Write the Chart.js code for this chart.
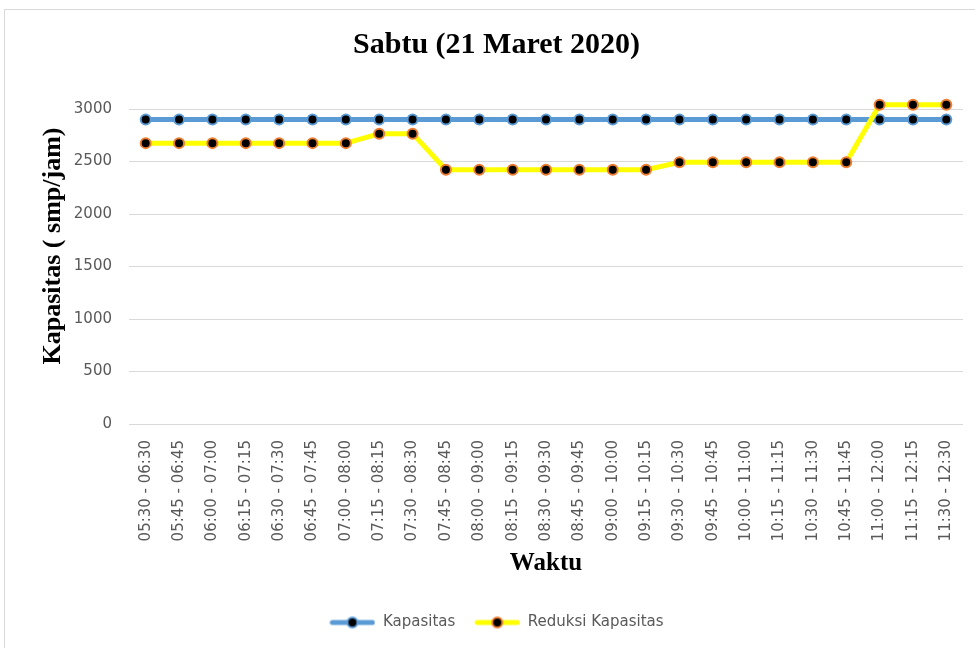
<!DOCTYPE html>
<html lang="id">
<head>
    <meta charset="UTF-8">
    <title>Sabtu (21 Maret 2020)</title>
    <script src="https://cdn.jsdelivr.net/npm/chart.js"></script>
    <style>
        body {
            margin: 0;
            background: #fff;
            overflow: hidden;
        }
        .frame {
            position: absolute;
            left: 4px;
            top: 9px;
            width: 1000px;
            height: 700px;
            border: 1px solid #d9d9d9;
            pointer-events: none;
        }
        #kapasitasChart {
            position: absolute;
            left: 0;
            top: 0;
        }
    </style>
</head>
<body>
    <div class="frame"></div>
    <canvas id="kapasitasChart" width="975" height="648"></canvas>

    <script>
        // data
        const waktu = [
            '05:30 - 06:30', '05:45 - 06:45', '06:00 - 07:00', '06:15 - 07:15', '06:30 - 07:30',
            '06:45 - 07:45', '07:00 - 08:00', '07:15 - 08:15', '07:30 - 08:30', '07:45 - 08:45',
            '08:00 - 09:00', '08:15 - 09:15', '08:30 - 09:30', '08:45 - 09:45', '09:00 - 10:00',
            '09:15 - 10:15', '09:30 - 10:30', '09:45 - 10:45', '10:00 - 11:00', '10:15 - 11:15',
            '10:30 - 11:30', '10:45 - 11:45', '11:00 - 12:00', '11:15 - 12:15', '11:30 - 12:30'
        ];
        const kapasitas = [
            2900, 2900, 2900, 2900, 2900, 2900, 2900, 2900, 2900, 2900,
            2900, 2900, 2900, 2900, 2900, 2900, 2900, 2900, 2900, 2900,
            2900, 2900, 2900, 2900, 2900
        ];
        const reduksiKapasitas = [
            2675, 2675, 2675, 2675, 2675, 2675, 2675, 2765, 2765, 2422,
            2422, 2422, 2422, 2422, 2422, 2422, 2492, 2492, 2492, 2492,
            2492, 2492, 3040, 3040, 3040
        ];
        const yTicks = [0, 500, 1000, 1500, 2000, 2500, 3000];

        const seriesNames = ['Kapasitas', 'Reduksi Kapasitas'];
        const lineColors = ['#5B9BD5', '#FFFF00'];
        const markerEdges = ['#5B9BD5', '#ED7D31'];
        const yTitle = 'Kapasitas ( smp/jam)';

        // little line-with-dot sample for the legend
        function legendMarker(lineColor, edgeColor) {
            const c = document.createElement('canvas');
            c.width = 46;
            c.height = 14;
            const g = c.getContext('2d');
            g.strokeStyle = lineColor;
            g.lineWidth = 5;
            g.lineCap = 'round';
            g.beginPath();
            g.moveTo(3, 7);
            g.lineTo(43, 7);
            g.stroke();
            g.beginPath();
            g.arc(23, 7, 5, 0, Math.PI * 2);
            g.fillStyle = '#000';
            g.fill();
            g.lineWidth = 2;
            g.strokeStyle = edgeColor;
            g.stroke();
            return c;
        }
        const markers = [legendMarker(lineColors[0], markerEdges[0]), legendMarker(lineColors[1], markerEdges[1])];

        // y axis title sits a bit above the middle of the axis, like the original
        const yTitlePlugin = {
            id: 'yTitle',
            afterDraw(chart) {
                const g = chart.ctx;
                g.save();
                g.translate(53, 246);
                g.rotate(-Math.PI / 2);
                g.font = 'bold 26px "Liberation Serif"';
                g.fillStyle = '#000';
                g.textAlign = 'center';
                g.textBaseline = 'middle';
                g.fillText(yTitle, 0, 0);
                g.restore();
            }
        };

        const tickFont = { family: 'DejaVu Sans', size: 15 };
        const serifBold = { family: 'Liberation Serif', weight: 'bold' };

        const ctx = document.getElementById('kapasitasChart').getContext('2d');
        new Chart(ctx, {
            type: 'line',
            data: {
                labels: waktu,
                datasets: [
                    {
                        label: seriesNames[0],
                        data: kapasitas,
                        borderColor: lineColors[0],
                        backgroundColor: lineColors[0],
                        borderWidth: 5,
                        pointRadius: 5,
                        pointBorderWidth: 2,
                        pointBackgroundColor: '#000',
                        pointBorderColor: markerEdges[0],
                        tension: 0,
                        clip: false,
                        order: 1
                    },
                    {
                        label: seriesNames[1],
                        data: reduksiKapasitas,
                        borderColor: lineColors[1],
                        backgroundColor: lineColors[1],
                        borderWidth: 5,
                        pointRadius: 5,
                        pointBorderWidth: 2,
                        pointBackgroundColor: '#000',
                        pointBorderColor: markerEdges[1],
                        tension: 0,
                        clip: false,
                        order: 0
                    }
                ]
            },
            options: {
                responsive: false,
                animation: false,
                devicePixelRatio: 1,
                layout: {
                    padding: { top: 0, left: 30, right: 12, bottom: 8 }
                },
                scales: {
                    x: {
                        offset: true,
                        grid: { display: false },
                        border: { display: false },
                        ticks: {
                            font: tickFont,
                            color: '#595959',
                            maxRotation: 90,
                            minRotation: 90,
                            autoSkip: false,
                            padding: 8
                        },
                        title: {
                            display: true,
                            text: 'Waktu',
                            color: '#000',
                            font: { ...serifBold, size: 25 },
                            padding: { top: 0, bottom: 17 }
                        },
                        afterFit: function(scale) {
                            scale.height = 172;
                        }
                    },
                    y: {
                        min: 0,
                        max: 3000,
                        grid: { color: '#d9d9d9', lineWidth: 1, drawTicks: false },
                        border: { display: false },
                        afterBuildTicks: function(scale) {
                            scale.ticks = yTicks.map(v => ({ value: v }));
                        },
                        ticks: {
                            font: tickFont,
                            color: '#595959',
                            padding: 17,
                            callback: function(value) {
                                return String(value);
                            }
                        },
                        afterFit: function(scale) {
                            scale.width = 99;
                        }
                    }
                },
                plugins: {
                    title: {
                        display: true,
                        text: 'Sabtu (21 Maret 2020)',
                        color: '#000',
                        font: { ...serifBold, size: 30 },
                        padding: { top: 27, bottom: 46 }
                    },
                    legend: {
                        position: 'bottom',
                        labels: {
                            font: tickFont,
                            color: '#595959',
                            padding: 19,
                            usePointStyle: true,
                            pointStyleWidth: 46,
                            generateLabels: function(chart) {
                                return seriesNames.map((name, i) => ({
                                    text: name,
                                    pointStyle: markers[i],
                                    fontColor: '#595959',
                                    fillStyle: lineColors[i],
                                    strokeStyle: lineColors[i],
                                    lineWidth: 0,
                                    hidden: false,
                                    datasetIndex: i
                                }));
                            }
                        }
                    },
                    tooltip: { enabled: false }
                }
            },
            plugins: [yTitlePlugin]
        });
    </script>
</body>
</html>
